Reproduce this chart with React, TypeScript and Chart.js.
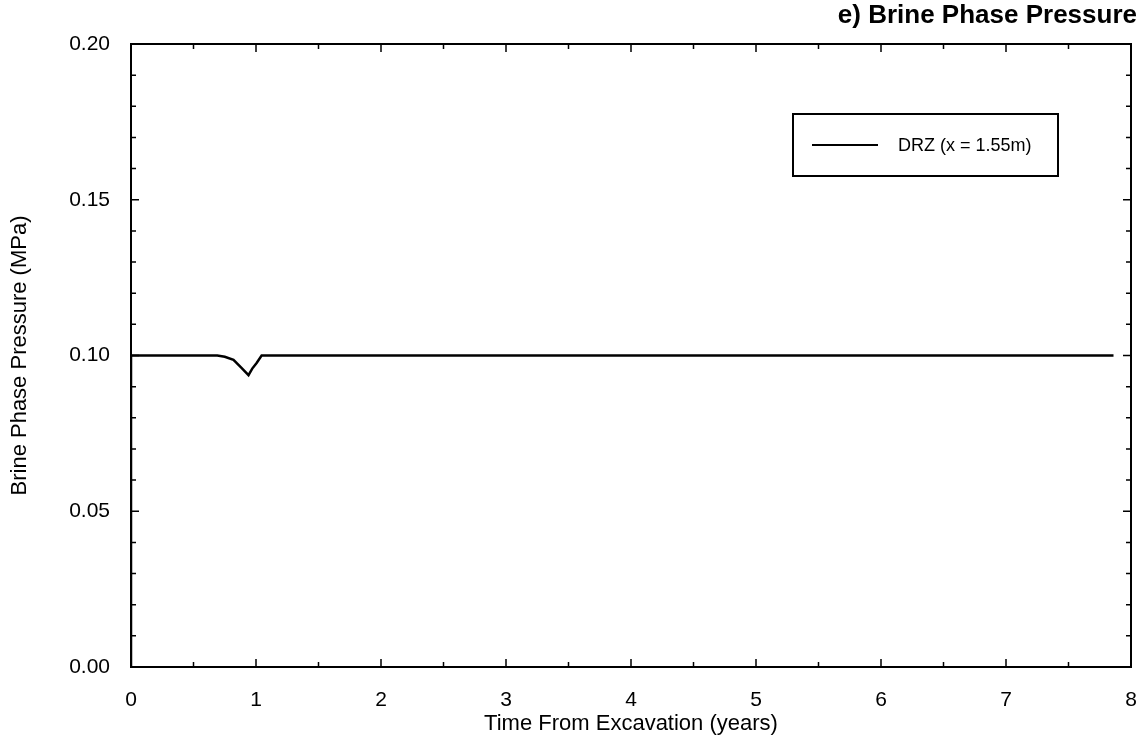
import React, { useEffect, useRef } from "react";
import { Chart, registerables } from "chart.js";

Chart.register(...registerables);

const timeYears = [0, 0.0, 0.3, 0.69, 0.75, 0.82, 0.88, 0.94, 0.97, 1.005, 1.045, 2, 4, 6, 7.86];
const pressureMPa = [0, 0.1, 0.1, 0.1, 0.0996, 0.0986, 0.0962, 0.0937, 0.0958, 0.0976, 0.1, 0.1, 0.1, 0.1, 0.1];
const xTickValues = [0, 1, 2, 3, 4, 5, 6, 7, 8];
const yTickLabels = ["0.00", "0.05", "0.10", "0.15", "0.20"];
const chartTitle = "e) Brine Phase Pressure";
const seriesLabel = "DRZ (x = 1.55m)";
const xTitle = "Time From Excavation (years)";
const yTitle = "Brine Phase Pressure (MPa)";

const FONT = "'Liberation Sans', Arial, Helvetica, sans-serif";

const framePlugin = {
  id: "frameTicks",
  afterDraw(chart: any) {
    const { ctx, chartArea } = chart;
    const { left, right, top, bottom } = chartArea;
    const xs = chart.scales.x;
    const ys = chart.scales.y;
    ctx.save();
    ctx.strokeStyle = "#000";
    ctx.lineWidth = 2;
    ctx.strokeRect(left, top, right - left, bottom - top);
    ctx.lineWidth = 1.5;
    for (let v = 0; v <= 8.0001; v += 0.5) {
      const px = xs.getPixelForValue(v);
      const major = Math.abs(v - Math.round(v)) < 1e-6;
      const len = major ? 8 : 5;
      ctx.beginPath();
      ctx.moveTo(px, bottom);
      ctx.lineTo(px, bottom - len);
      ctx.moveTo(px, top);
      ctx.lineTo(px, top + len);
      ctx.stroke();
    }
    for (let i = 0; i <= 20; i++) {
      const v = i * 0.01;
      const py = ys.getPixelForValue(v);
      const major = i % 5 === 0;
      const len = major ? 8 : 5;
      ctx.beginPath();
      ctx.moveTo(left, py);
      ctx.lineTo(left + len, py);
      ctx.moveTo(right, py);
      ctx.lineTo(right - len, py);
      ctx.stroke();
    }
    ctx.fillStyle = "#000";
    ctx.font = `bold 26px ${FONT}`;
    ctx.textAlign = "right";
    ctx.textBaseline = "middle";
    ctx.fillText(chartTitle, 1137, 16);
    ctx.lineWidth = 2;
    ctx.strokeRect(793, 114, 265, 62);
    ctx.beginPath();
    ctx.moveTo(812, 145);
    ctx.lineTo(878, 145);
    ctx.stroke();
    ctx.font = `18px ${FONT}`;
    ctx.textAlign = "left";
    ctx.fillText(seriesLabel, 898, 146);
    ctx.restore();
  },
};

export default function App() {
  const ref = useRef<HTMLCanvasElement | null>(null);
  useEffect(() => {
    if (!ref.current) return;
    const chart = new Chart(ref.current, {
      type: "line",
      data: {
        datasets: [
          {
            label: seriesLabel,
            data: timeYears.map((t, i) => ({ x: t, y: pressureMPa[i] })),
            borderColor: "#000",
            borderWidth: 2.5,
            pointRadius: 0,
            tension: 0,
            fill: false,
          },
        ],
      },
      options: {
        responsive: true,
        maintainAspectRatio: false,
        animation: false,
        layout: { padding: { top: 44, right: 10, left: 0, bottom: 0 } },
        plugins: { legend: { display: false }, tooltip: { enabled: false }, title: { display: false } },
        scales: {
          x: {
            type: "linear",
            min: 0,
            max: 8,
            afterBuildTicks: (s: any) => {
              s.ticks = xTickValues.map((v) => ({ value: v }));
            },
            afterFit: (s: any) => {
              s.height = 77;
              s.paddingLeft = 0;
              s.paddingRight = 0;
            },
            grid: { display: false, drawTicks: false },
            border: { display: false },
            ticks: {
              color: "#000",
              padding: 21,
              font: { family: FONT, size: 21 },
              callback: (v: any) => String(v),
              maxRotation: 0,
            },
            title: {
              display: true,
              text: xTitle,
              color: "#000",
              font: { family: FONT, size: 22 },
              padding: { top: 0, bottom: 7 },
            },
          },
          y: {
            type: "linear",
            min: 0,
            max: 0.2,
            afterBuildTicks: (s: any) => {
              s.ticks = yTickLabels.map((t) => ({ value: parseFloat(t) }));
            },
            afterFit: (s: any) => {
              s.width = 131;
              s.paddingTop = 0;
              s.paddingBottom = 0;
            },
            grid: { display: false, drawTicks: false },
            border: { display: false },
            ticks: {
              color: "#000",
              padding: 21,
              font: { family: FONT, size: 21 },
              callback: (v: any) => yTickLabels.find((t) => Math.abs(parseFloat(t) - v) < 1e-9) ?? "",
            },
            title: {
              display: true,
              text: yTitle,
              color: "#000",
              font: { family: FONT, size: 22 },
              padding: { top: 7, bottom: 0 },
            },
          },
        },
      },
      plugins: [framePlugin],
    });
    return () => chart.destroy();
  }, []);
  return (
    <div style={{ position: "fixed", left: 0, top: 0, width: 1141, height: 744, background: "#fff" }}>
      <canvas ref={ref} />
    </div>
  );
}
